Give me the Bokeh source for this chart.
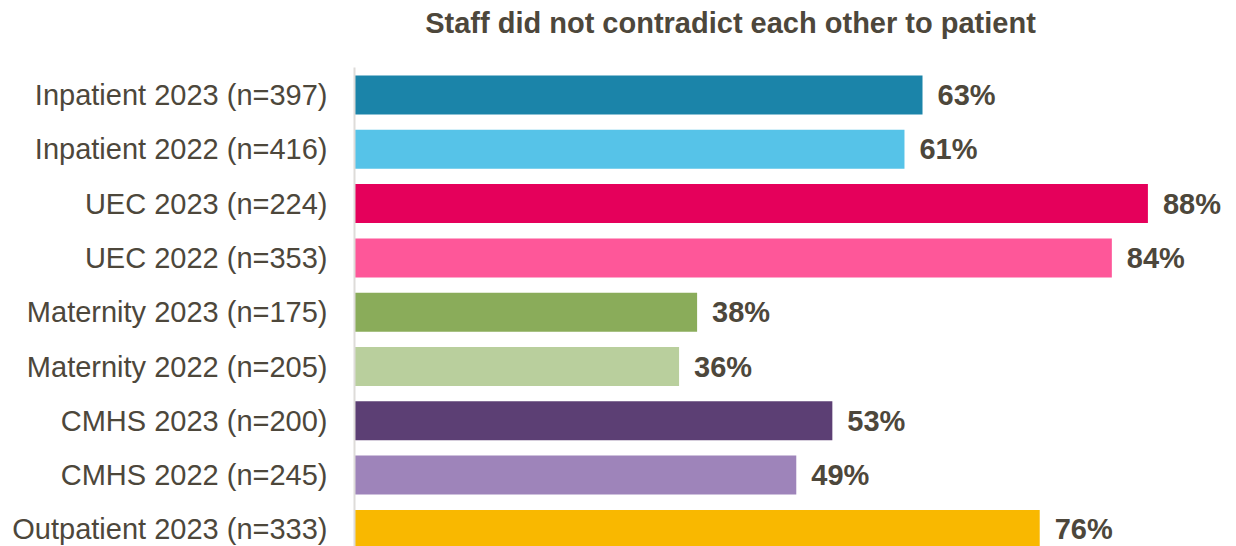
from bokeh.plotting import figure
from bokeh.models import ColumnDataSource, Range1d, FixedTicker, Label
from bokeh.core.properties import value
from bokeh.embed import file_html
from bokeh.resources import INLINE

categories = [
    "Inpatient 2023 (n=397)",
    "Inpatient 2022 (n=416)",
    "UEC 2023 (n=224)",
    "UEC 2022 (n=353)",
    "Maternity 2023 (n=175)",
    "Maternity 2022 (n=205)",
    "CMHS 2023 (n=200)",
    "CMHS 2022 (n=245)",
    "Outpatient 2023 (n=333)",
]
percent = [63, 61, 88, 84, 38, 36, 53, 49, 76]
colors = ["#1B84A9", "#56C3E8", "#E5005B", "#FE5799", "#8AAC5A",
          "#B9CF9D", "#5C3F74", "#9E84BA", "#F9B800"]
title_text = "Staff did not contradict each other to patient"

TEXT = "#4D473B"
FONT = "Liberation Sans"

W, H = 1236, 546
LEFT = 354
pitch = 54.3
first_center = 94.5
xmax = (W - LEFT) / 9.016

idx = list(range(len(categories)))
src = ColumnDataSource(dict(
    y=idx, v=percent, c=colors,
    lab=[f"{v}%" for v in percent],
))

p = figure(width=W, height=H, output_backend="svg", toolbar_location=None,
           x_range=Range1d(0, xmax),
           y_range=Range1d((H - first_center) / pitch, -first_center / pitch),
           min_border_left=LEFT, min_border_right=0,
           min_border_top=0, min_border_bottom=0)
p.outline_line_color = None
p.background_fill_color = "white"
p.border_fill_color = "white"
p.xgrid.visible = False
p.ygrid.visible = False
p.xaxis.visible = False

p.hbar(y="y", left=0, right="v", height=39 / pitch, color="c", line_color=None, source=src)
p.text(x="v", y="y", text="lab", x_offset=15, text_baseline="middle", text_align="left",
       text_font=value(FONT), text_font_style="bold", text_font_size="29px",
       text_color=TEXT, source=src)

ya = p.yaxis[0]
ya.ticker = FixedTicker(ticks=idx)
ya.major_label_overrides = {i: c for i, c in zip(idx, categories)}
ya.major_tick_line_color = None
ya.minor_tick_line_color = None
ya.major_tick_out = 0
ya.major_tick_in = 0
ya.major_label_standoff = 27
ya.major_label_text_font = FONT
ya.major_label_text_font_size = "29px"
ya.major_label_text_color = TEXT
ya.axis_line_color = "#DEDCD9"
ya.axis_line_width = 2
ya.bounds = ((67 - first_center) / pitch, 20)

p.add_layout(Label(x=730 - LEFT, y=H - 22, x_units="screen", y_units="screen",
                   text=title_text, text_align="center", text_baseline="middle",
                   text_font=FONT, text_font_style="bold", text_font_size="29px",
                   text_color=TEXT))

open("out.html", "w").write(file_html(p, INLINE))
